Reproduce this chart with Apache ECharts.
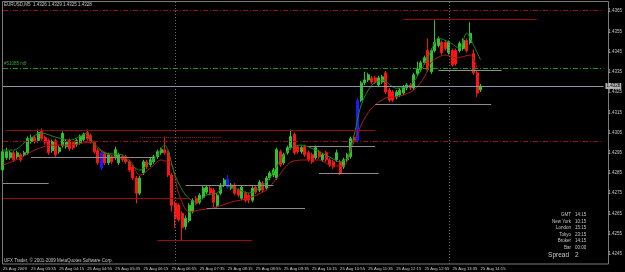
<!DOCTYPE html>
<html><head><meta charset="utf-8">
<script src="https://cdn.jsdelivr.net/npm/echarts@6/dist/echarts.min.js"></script>
<style>html,body{margin:0;padding:0;background:#000;}#c{width:625px;height:272px;}</style>
</head><body><div id="c"></div>
<script>
// ---------------- data ----------------
const symbolName = 'EURUSD,M5';
const headerOHLC = ['1.4326', '1.4329', '1.4325', '1.4328'];
const dayLabel = '25 Aug';
const firstDateLabel = '25 Aug 2009';
const firstTime = '02:55';
const slotCount = 172;          // bars + empty right shift
const bidPrice = 1.4328;
const bidLabel = '1.4328';

// [open, close, low, high]
const ohlc = [
 [1.42865,1.42955,1.42855,1.42965],[1.42925,1.42955,1.42915,1.42975],[1.42925,1.42950,1.42915,1.42960],[1.42950,1.42915,1.42905,1.42960],
 [1.42930,1.42950,1.42920,1.42960],[1.42940,1.42915,1.42905,1.42950],[1.42940,1.42950,1.42930,1.42960],[1.42950,1.43020,1.42940,1.43030],
 [1.43005,1.43025,1.42995,1.43040],[1.43025,1.43005,1.42995,1.43035],[1.43010,1.43050,1.43000,1.43065],[1.43060,1.43020,1.43010,1.43070],
 [1.43025,1.43000,1.42990,1.43035],[1.43010,1.42950,1.42940,1.43020],[1.42960,1.43005,1.42950,1.43015],[1.43010,1.42940,1.42930,1.43020],
 [1.42955,1.42975,1.42945,1.42985],[1.42985,1.43045,1.42975,1.43055],[1.42980,1.43005,1.42970,1.43015],[1.43010,1.42970,1.42960,1.43020],
 [1.43000,1.42975,1.42965,1.43005],[1.42990,1.43010,1.42980,1.43020],[1.43000,1.43030,1.42990,1.43040],[1.43015,1.43040,1.43005,1.43050],
 [1.43050,1.43020,1.43010,1.43065],[1.43035,1.43005,1.42995,1.43045],[1.43000,1.42955,1.42945,1.43010],[1.42960,1.42900,1.42890,1.42970],
 [1.42950,1.42875,1.42865,1.42960],[1.42945,1.42900,1.42890,1.42955],[1.42900,1.42940,1.42890,1.42950],[1.42930,1.42905,1.42895,1.42940],
 [1.42925,1.42965,1.42915,1.42980],[1.42900,1.42940,1.42890,1.42950],[1.42930,1.42915,1.42905,1.42940],[1.42930,1.42905,1.42895,1.42940],
 [1.42905,1.42865,1.42855,1.42915],[1.42880,1.42825,1.42815,1.42890],[1.42825,1.42750,1.42700,1.42835],[1.42750,1.42825,1.42740,1.42835],
 [1.42850,1.42905,1.42840,1.42915],[1.42905,1.42880,1.42870,1.42915],[1.42890,1.42915,1.42880,1.42925],[1.42905,1.42930,1.42895,1.42940],
 [1.42930,1.42955,1.42920,1.42965],[1.42950,1.42965,1.42940,1.42975],[1.42965,1.42950,1.42940,1.43030],[1.42950,1.42840,1.42830,1.42960],
 [1.42840,1.42690,1.42660,1.42850],[1.42700,1.42630,1.42580,1.42710],[1.42690,1.42620,1.42610,1.42700],[1.42650,1.42580,1.42520,1.42660],
 [1.42585,1.42625,1.42570,1.42640],[1.42615,1.42690,1.42605,1.42700],[1.42660,1.42715,1.42650,1.42725],[1.42725,1.42700,1.42690,1.42735],
 [1.42705,1.42740,1.42695,1.42750],[1.42730,1.42775,1.42720,1.42785],[1.42755,1.42780,1.42745,1.42790],[1.42775,1.42750,1.42740,1.42785],
 [1.42765,1.42705,1.42680,1.42775],[1.42690,1.42740,1.42680,1.42750],[1.42750,1.42790,1.42740,1.42800],[1.42790,1.42815,1.42780,1.42825],
 [1.42820,1.42780,1.42770,1.42840],[1.42775,1.42790,1.42765,1.42800],[1.42790,1.42750,1.42740,1.42800],[1.42765,1.42740,1.42730,1.42775],
 [1.42725,1.42780,1.42715,1.42790],[1.42750,1.42715,1.42705,1.42760],[1.42740,1.42715,1.42700,1.42750],[1.42715,1.42775,1.42705,1.42785],
 [1.42780,1.42755,1.42745,1.42790],[1.42765,1.42805,1.42755,1.42815],[1.42800,1.42765,1.42755,1.42810],[1.42775,1.42825,1.42765,1.42835],
 [1.42825,1.42850,1.42815,1.42860],[1.42840,1.42865,1.42830,1.42875],[1.42825,1.42965,1.42815,1.42975],[1.42955,1.42890,1.42880,1.42965],
 [1.42900,1.42940,1.42890,1.42950],[1.42950,1.42975,1.42940,1.42985],[1.42975,1.43030,1.42965,1.43065],[1.43040,1.42950,1.42940,1.43050],
 [1.42980,1.42955,1.42945,1.42990],[1.42955,1.42975,1.42945,1.42985],[1.42980,1.42940,1.42930,1.42990],[1.42950,1.42915,1.42905,1.42960],
 [1.42940,1.42905,1.42895,1.42950],[1.42925,1.42975,1.42915,1.42985],[1.42955,1.42930,1.42920,1.42965],[1.42915,1.42940,1.42905,1.42950],
 [1.42950,1.42915,1.42905,1.42960],[1.42915,1.42890,1.42880,1.42925],[1.42905,1.42880,1.42870,1.42915],[1.42915,1.42950,1.42905,1.42965],
 [1.42905,1.42850,1.42840,1.42915],[1.42880,1.42915,1.42870,1.42925],[1.42915,1.42940,1.42905,1.42950],[1.42930,1.43020,1.42920,1.43030],
 [1.43025,1.43010,1.43000,1.43035],[1.43010,1.43210,1.43000,1.43220],[1.43210,1.43295,1.43200,1.43305],[1.43295,1.43310,1.43285,1.43350],
 [1.43310,1.43335,1.43300,1.43345],[1.43320,1.43300,1.43290,1.43330],[1.43320,1.43300,1.43290,1.43330],[1.43285,1.43320,1.43275,1.43330],
 [1.43300,1.43325,1.43290,1.43335],[1.43345,1.43250,1.43240,1.43355],[1.43260,1.43210,1.43200,1.43270],[1.43250,1.43210,1.43200,1.43260],
 [1.43225,1.43250,1.43215,1.43260],[1.43235,1.43260,1.43225,1.43270],[1.43245,1.43275,1.43235,1.43285],[1.43270,1.43285,1.43260,1.43295],
 [1.43285,1.43270,1.43260,1.43295],[1.43270,1.43335,1.43260,1.43345],[1.43340,1.43365,1.43330,1.43400],[1.43360,1.43395,1.43350,1.43405],
 [1.43395,1.43420,1.43385,1.43430],[1.43455,1.43360,1.43350,1.43515],[1.43350,1.43455,1.43340,1.43465],[1.43455,1.43495,1.43445,1.43605],
 [1.43480,1.43515,1.43470,1.43525],[1.43495,1.43445,1.43435,1.43505],[1.43495,1.43465,1.43455,1.43505],[1.43445,1.43495,1.43435,1.43505],
 [1.43455,1.43385,1.43375,1.43465],[1.43455,1.43390,1.43380,1.43465],[1.43455,1.43490,1.43445,1.43500],[1.43465,1.43505,1.43455,1.43515],
 [1.43505,1.43455,1.43445,1.43515],[1.43495,1.43540,1.43485,1.43595],[1.43440,1.43345,1.43335,1.43460],[1.43345,1.43245,1.43225,1.43355],
 [1.43260,1.43280,1.43250,1.43290]
];
const blueBars = [28, 64, 101];

// [bar index, price]
const greenMA = [[0,1.42963],[3,1.42963],[7,1.43012],[11,1.43047],[15,1.43027],[19,1.43012],[24,1.43047],[26,1.42988],
 [29,1.42948],[34,1.42939],[36,1.42899],[39,1.42864],[41,1.42889],[44,1.42939],[46,1.42988],[47,1.42963],[49,1.42839],
 [52,1.42741],[55,1.42706],[58,1.42741],[61,1.42751],[63,1.42790],[66,1.42775],[70,1.42751],[73,1.42775],[76,1.42825],
 [79,1.42914],[82,1.42973],[85,1.42988],[89,1.42963],[93,1.42929],[96,1.42904],[98,1.42924],[100,1.43037],[102,1.43186],
 [105,1.43284],[108,1.43309],[112,1.43269],[116,1.43284],[119,1.43358],[122,1.43457],[124,1.43516],[127,1.43497],
 [130,1.43467],[132,1.43541],[134,1.43482],[136,1.43408]];
const redMA = [[0,1.42889],[5,1.42924],[9,1.42963],[14,1.42988],[19,1.42988],[25,1.43003],[28,1.42963],[32,1.42929],
 [36,1.42914],[39,1.42839],[42,1.42874],[45,1.42914],[48,1.42889],[50,1.42751],[53,1.42657],[56,1.42667],[60,1.42677],
 [65,1.42706],[70,1.42726],[75,1.42766],[78,1.42825],[82,1.42904],[86,1.42914],[90,1.42914],[94,1.42884],[97,1.42884],
 [99,1.42963],[102,1.43087],[105,1.43171],[109,1.43220],[113,1.43230],[117,1.43260],[120,1.43324],[122,1.43398],
 [126,1.43433],[129,1.43418],[133,1.43433],[135,1.43368]];

// horizontal levels: [price, fromBar, toBar]
const redSolidLevels = [[1.43062,1,106],[1.42726,0,53],[1.42519,44,71],[1.43610,114,152]];
const redDottedLevels = [[1.43027,39,62]];
const greyLevels = [[1.42929,8,43],[1.42800,0,13],[1.42790,52,77],[1.42677,58,86],[1.42983,87,106],
 [1.42849,90,107],[1.43191,106,139],[1.43358,124,142]];
const redDashLevels = [[1.43655,0,171],[1.43008,0,171]];
const greenDashLevels = [[1.43368,0,171]];
const greenDashName = '#51085 m8';
const verticalBars = [49, 127];

const infoLabels = ['GMT', 'New York', 'London', 'Tokyo', 'Broker', 'Bar'];
const infoValues = ['14:15', '10:15', '15:15', '23:15', '14:15', '00:00'];
const spreadLabel = 'Spread';
const spreadValue = '2';
const copyright = 'UFX Trader, \u00a9 2001-2009 MetaQuotes Software Corp.';

// ---------------- build ----------------
const cats = [];
{
  const [h, m] = firstTime.split(':').map(Number);
  let t = h * 60 + m;
  for (let i = 0; i < slotCount; i++, t += 5) {
    const hh = String(Math.floor(t / 60) % 24).padStart(2, '0');
    const mm = String(t % 60).padStart(2, '0');
    cats.push(hh + ':' + mm);
  }
}
const UP = '#2fc42f', DOWN = '#ff1414', BLUE = '#1a1aff';
const candleData = ohlc.map((v, i) => blueBars.includes(i)
  ? { value: v, itemStyle: { color: BLUE, color0: BLUE, borderColor: BLUE, borderColor0: BLUE } }
  : v);

function levelLines(list, style, label) {
  return list.map(([p, a, b]) => [
    { coord: [cats[a], p], lineStyle: style, label: label || { show: false } },
    { coord: [cats[b], p] }
  ]);
}
const FONT = 'Liberation Sans';
const markLines = [].concat(
  levelLines(redDashLevels, { color: '#9a1010', width: 1, type: [5, 2, 1, 2] }),
  levelLines(greenDashLevels, { color: '#1a9a1a', width: 1, type: [5, 2, 1, 2] }),
  levelLines(redSolidLevels, { color: '#9a0c0c', width: 1, type: 'solid' }),
  levelLines(redDottedLevels, { color: '#9a0c0c', width: 1, type: [1, 1] }),
  levelLines(greyLevels, { color: '#8c8c8c', width: 1, type: 'solid' }),
  verticalBars.map(i => ({ xAxis: cats[i], lineStyle: { color: '#6a6a6a', width: 1, type: [1, 2] }, label: { show: false } })),
  levelLines([[bidPrice, 0, slotCount - 1]], { color: '#8a96a3', width: 1, type: 'solid' },
    { show: true, position: 'end', formatter: bidLabel, color: '#000', backgroundColor: '#b4b4b4',
      fontSize: 4.5, padding: [1, 1, 0, 1], distance: 2, fontFamily: FONT })
);

const txt = (x, y, s, opts = {}) => ({ type: 'text', x, y, silent: true, z: 10,
  style: Object.assign({ text: s, fill: '#c8c8c8', font: '4.5px ' + FONT, textVerticalAlign: 'middle' }, opts) });

const graphics = [
  { type: 'rect', shape: { x: 2.5, y: 1.5, width: 606, height: 262.5 }, style: { stroke: '#7a7a7a', fill: null, lineWidth: 1 }, silent: true, z: 0 },
  txt(4, 5, symbolName + '  ' + headerOHLC.join(' ')),
  txt(4, 63.5, greenDashName, { fill: '#3aa03a' }),
  txt(4, 260.5, copyright)
];
const infoY = [215, 221.5, 228, 234.5, 241, 247.5];
infoLabels.forEach((l, k) => {
  graphics.push(txt(571, infoY[k], l, { textAlign: 'right' }));
  graphics.push(txt(575, infoY[k], infoValues[k]));
});
graphics.push(txt(569, 255, spreadLabel, { textAlign: 'right', font: '6.5px ' + FONT }));
graphics.push(txt(575, 255, spreadValue, { font: '6.5px ' + FONT }));

const chart = echarts.init(document.getElementById('c'), null, { renderer: 'canvas' });
chart.setOption({
  backgroundColor: '#000',
  animation: false,
  grid: { left: 0, right: 17, top: 1, bottom: 8 },
  xAxis: {
    type: 'category', data: cats, boundaryGap: true,
    axisLine: { show: false }, axisTick: { show: false }, splitLine: { show: false },
    axisLabel: {
      interval: (i) => i % 8 === 0 && i < ohlc.length,
      formatter: (v, i) => i === 0 ? firstDateLabel : dayLabel + ' ' + v,
      color: '#c8c8c8', fontSize: 4.2, fontFamily: FONT, align: 'left', margin: 2.5, hideOverlap: false
    }
  },
  yAxis: {
    type: 'value', position: 'right', min: 1.4240, max: 1.4370, interval: 0.0005, scale: true,
    axisLine: { show: false }, axisTick: { show: false }, splitLine: { show: false },
    axisLabel: {
      color: '#c8c8c8', fontSize: 4.5, fontFamily: FONT, margin: 3, showMinLabel: true, showMaxLabel: true,
      formatter: (v) => (Math.round(v * 10000) % 10 === 5) ? v.toFixed(4) : ''
    }
  },
  graphic: graphics,
  series: [
    { type: 'line', data: [], silent: true, z: 1,
      markLine: { silent: true, symbol: ['none', 'none'], animation: false, label: { show: false }, data: markLines } },
    { type: 'line', data: redMA.map(([i, v]) => [cats[i], v]), showSymbol: false, symbol: 'none', smooth: 0.3, z: 3,
      lineStyle: { color: '#b01818', width: 1 }, silent: true },
    { type: 'line', data: greenMA.map(([i, v]) => [cats[i], v]), showSymbol: false, symbol: 'none', smooth: 0.3, z: 3,
      lineStyle: { color: '#178a17', width: 1 }, silent: true },
    { type: 'candlestick', data: candleData, barWidth: 2.5, z: 2,
      itemStyle: { color: UP, color0: DOWN, borderColor: UP, borderColor0: DOWN, borderWidth: 1 } }
  ]
});
</script></body></html>
